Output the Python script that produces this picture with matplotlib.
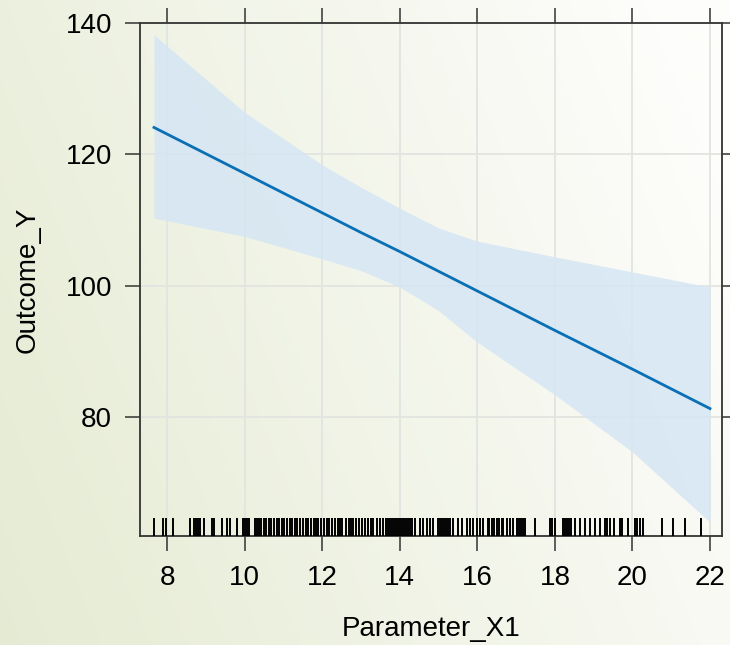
import numpy as np
import matplotlib
matplotlib.use("Agg")
import matplotlib.pyplot as plt

plt.rcParams['font.family'] = ['Liberation Sans', 'DejaVu Sans']

# ---- data ----
x_grid = [7.66, 10, 12, 13, 14, 15, 16, 18, 20, 22]
fit_y = [124.1, 117.1, 111.1, 108.1, 105.2, 102.2, 99.2, 93.2, 87.3, 81.3]
upper_y = [138.2, 126.4, 118.4, 115.0, 111.8, 108.8, 106.8, 104.4, 102.1, 99.8]
lower_y = [110.3, 107.5, 104.1, 102.3, 99.8, 96.2, 91.4, 83.4, 74.7, 64.0]

rug_x = [7.66, 7.90, 7.97, 8.16, 8.59, 8.68, 8.75, 8.80, 8.85, 8.94, 9.16, 9.21,
         9.41, 9.54, 9.61, 9.80, 9.96, 10.01, 10.06, 10.11, 10.27, 10.32, 10.37,
         10.42, 10.50, 10.55, 10.62, 10.68, 10.75, 10.83, 10.88, 10.95, 11.02,
         11.08, 11.16, 11.22, 11.30, 11.36, 11.42, 11.50, 11.57, 11.63, 11.71,
         11.78, 11.84, 11.90, 11.98, 12.05, 12.12, 12.18, 12.25, 12.33, 12.40,
         12.46, 12.52, 12.60, 12.68, 12.74, 12.80, 12.88, 12.95, 13.02, 13.10,
         13.18, 13.26, 13.31, 13.41, 13.49, 13.57, 13.65, 13.70, 13.75, 13.80,
         13.85, 13.90, 13.96, 14.01, 14.06, 14.11, 14.16, 14.21, 14.26, 14.32,
         14.39, 14.52, 14.60, 14.70, 14.78, 14.86, 14.99, 15.04, 15.09, 15.14,
         15.19, 15.24, 15.30, 15.37, 15.50, 15.60, 15.73, 15.81, 15.89, 15.99,
         16.07, 16.15, 16.28, 16.30, 16.38, 16.43, 16.51, 16.56, 16.64, 16.66,
         16.77, 16.84, 16.92, 17.02, 17.07, 17.13, 17.18, 17.23, 17.49, 17.87,
         17.93, 18.00, 18.21, 18.26, 18.31, 18.36, 18.42, 18.52, 18.65, 18.78,
         18.90, 19.03, 19.16, 19.29, 19.34, 19.42, 19.52, 19.68, 19.73, 19.88,
         20.06, 20.12, 20.19, 20.27, 20.76, 21.05, 21.35, 21.78]

x_ticks = [8, 10, 12, 14, 16, 18, 20, 22]
y_ticks = [80, 100, 120, 140]

# ---- figure ----
fig = plt.figure(figsize=(7.3, 6.45), dpi=100)

# background gradient
bg = fig.add_axes([0, 0, 1, 1], zorder=-10)
nx, ny = 300, 300
gx, gy = np.meshgrid(np.linspace(0, 1, nx), np.linspace(0, 1, ny))
t = np.clip((0.85 * gx + 0.3 * gy) / 1.05, 0, 1)
green = np.array([229, 235, 211]) / 255.0
white = np.array([253, 253, 251]) / 255.0
img = green[None, None, :] * (1 - t[..., None]) + white[None, None, :] * t[..., None]
bg.imshow(img, origin='lower', aspect='auto', extent=[0, 1, 0, 1])
bg.axis('off')

ax = fig.add_axes([140 / 730, 1 - 536 / 645, 582 / 730, 513 / 645])
ax.patch.set_alpha(0)

ax.set_xlim(7.30, 22.31)
ax.set_ylim(61.9, 140)

ax.grid(True, color='#e2e4e0', linewidth=1.3, zorder=0)
ax.set_axisbelow(True)

ax.fill_between(x_grid, lower_y, upper_y, color='#d5e6f4', alpha=0.85,
                linewidth=0, zorder=2)
ax.plot(x_grid, fit_y, color='#0a6fb5', linewidth=2.0, zorder=3)

ax.vlines(rug_x, 0, 0.035, transform=ax.get_xaxis_transform(),
          color='black', linewidth=1.4, zorder=4)

ax.set_xticks(x_ticks)
ax.set_yticks(y_ticks)
ax.tick_params(axis='both', direction='out', length=11, width=1.1,
               color='#333333', labelsize=20, top=True, right=True,
               labeltop=False, labelright=False)
ax.tick_params(axis='x', pad=10)
ax.tick_params(axis='y', pad=9)
for s in ax.spines.values():
    s.set_color('#333333')
    s.set_linewidth(1.3)

ax.set_xlabel('Parameter_X1', fontsize=20, labelpad=18)
ax.set_ylabel('Outcome_Y', fontsize=20, labelpad=18)

fig.savefig('out.png', dpi=100)
